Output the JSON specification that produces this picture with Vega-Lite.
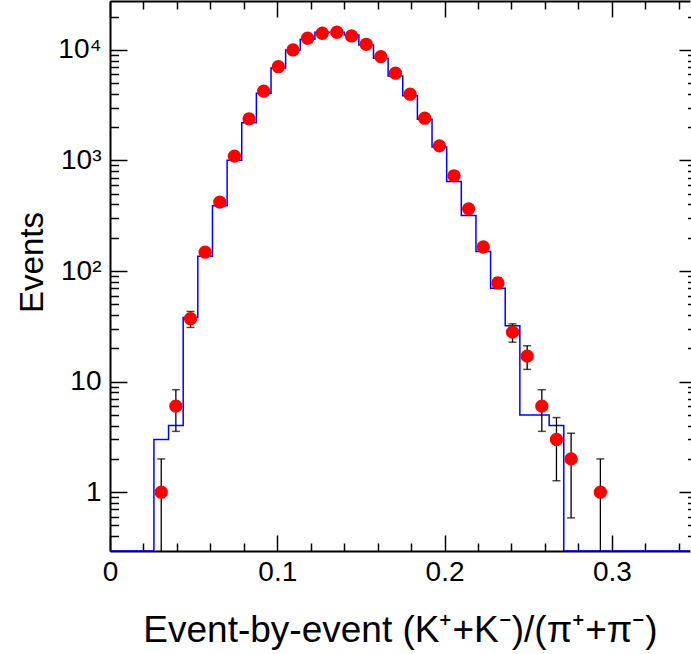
{
  "$schema": "https://vega.github.io/schema/vega-lite/v6.json",
  "width": 580,
  "height": 550,
  "autosize": {"type": "none"},
  "padding": {"left": 110, "top": 1, "right": 1, "bottom": 103},
  "background": "white",
  "config": {"view": {"stroke": null}, "font": "Liberation Sans", "axis": {"grid": false}},
  "datasets": {
    "hist": [
      {"x0": 0, "h": 0}, {"x0": 0.00875, "h": 0}, {"x0": 0.0175, "h": 0}, {"x0": 0.02625, "h": 3},
      {"x0": 0.035, "h": 4}, {"x0": 0.04375, "h": 38}, {"x0": 0.0525, "h": 136}, {"x0": 0.06125, "h": 390},
      {"x0": 0.07, "h": 1006}, {"x0": 0.07875, "h": 2190}, {"x0": 0.0875, "h": 4050}, {"x0": 0.09625, "h": 6870},
      {"x0": 0.105, "h": 9980}, {"x0": 0.11375, "h": 12470}, {"x0": 0.1225, "h": 14400}, {"x0": 0.13125, "h": 14400},
      {"x0": 0.14, "h": 13650}, {"x0": 0.14875, "h": 11070}, {"x0": 0.1575, "h": 8400}, {"x0": 0.16625, "h": 5810},
      {"x0": 0.175, "h": 3850}, {"x0": 0.18375, "h": 2360}, {"x0": 0.1925, "h": 1320}, {"x0": 0.20125, "h": 645},
      {"x0": 0.21, "h": 318}, {"x0": 0.21875, "h": 150}, {"x0": 0.2275, "h": 70}, {"x0": 0.23625, "h": 32},
      {"x0": 0.245, "h": 5}, {"x0": 0.25375, "h": 5}, {"x0": 0.2625, "h": 4}, {"x0": 0.27125, "h": 0},
      {"x0": 0.28, "h": 0}, {"x0": 0.28875, "h": 0}, {"x0": 0.2975, "h": 0}, {"x0": 0.30625, "h": 0},
      {"x0": 0.315, "h": 0}, {"x0": 0.32375, "h": 0}, {"x0": 0.3325, "h": 0}, {"x0": 0.34125, "h": 0},
      {"x0": 0.35, "h": 0}
    ],
    "pts": [
      {"xc": 0.030625, "n": 1, "lo": 0, "hi": 2},
      {"xc": 0.039375, "n": 6, "lo": 3.55, "hi": 8.45},
      {"xc": 0.048125, "n": 37, "lo": 30.9, "hi": 43.1},
      {"xc": 0.056875, "n": 148, "lo": 135.8, "hi": 160.2},
      {"xc": 0.065625, "n": 420, "lo": 399.5, "hi": 440.5},
      {"xc": 0.074375, "n": 1094, "lo": 1061, "hi": 1127},
      {"xc": 0.083125, "n": 2376, "lo": 2327, "hi": 2425},
      {"xc": 0.091875, "n": 4226, "lo": 4161, "hi": 4291},
      {"xc": 0.100625, "n": 7044, "lo": 6960, "hi": 7128},
      {"xc": 0.109375, "n": 9980, "lo": 9880, "hi": 10080},
      {"xc": 0.118125, "n": 12730, "lo": 12617, "hi": 12843},
      {"xc": 0.126875, "n": 14120, "lo": 14001, "hi": 14239},
      {"xc": 0.135625, "n": 14420, "lo": 14300, "hi": 14540},
      {"xc": 0.144375, "n": 13360, "lo": 13244, "hi": 13476},
      {"xc": 0.153125, "n": 11220, "lo": 11114, "hi": 11326},
      {"xc": 0.161875, "n": 8690, "lo": 8597, "hi": 8783},
      {"xc": 0.170625, "n": 6150, "lo": 6072, "hi": 6228},
      {"xc": 0.179375, "n": 3972, "lo": 3909, "hi": 4035},
      {"xc": 0.188125, "n": 2410, "lo": 2361, "hi": 2459},
      {"xc": 0.196875, "n": 1355, "lo": 1318, "hi": 1392},
      {"xc": 0.205625, "n": 726, "lo": 699, "hi": 753},
      {"xc": 0.214375, "n": 365, "lo": 346, "hi": 384},
      {"xc": 0.223125, "n": 165, "lo": 152.2, "hi": 177.8},
      {"xc": 0.231875, "n": 78, "lo": 69.2, "hi": 86.8},
      {"xc": 0.240625, "n": 28, "lo": 22.7, "hi": 33.3},
      {"xc": 0.249375, "n": 17, "lo": 12.9, "hi": 21.1},
      {"xc": 0.258125, "n": 6, "lo": 3.55, "hi": 8.45},
      {"xc": 0.266875, "n": 3, "lo": 1.27, "hi": 4.73},
      {"xc": 0.275625, "n": 2, "lo": 0.586, "hi": 3.414},
      {"xc": 0.293125, "n": 1, "lo": 0, "hi": 2}
    ]
  },
  "resolve": {"axis": {"x": "independent", "y": "independent"}},
  "layer": [
    {
      "data": {"name": "hist"},
      "mark": {"type": "line", "interpolate": "step-after", "color": "#0000ff", "strokeWidth": 1.5, "clip": true, "invalid": "show"},
      "encoding": {
        "x": {"field": "x0", "type": "quantitative",
          "scale": {"type": "linear", "domain": [0, 0.3467], "nice": false, "zero": false},
          "axis": {"orient": "bottom", "values": [0, 0.1, 0.2, 0.3], "format": "~g", "ticks": false,
            "labelFontSize": 28, "labelPadding": 29, "labelBaseline": "alphabetic", "labelColor": "black", "labelFlush": false,
            "domainColor": "black", "domainWidth": 2,
            "title": "Event-by-event (K⁺+K⁻)/(π⁺+π⁻)", "titleFontSize": 37, "titleFontWeight": "normal", "titleColor": "black",
            "titleBaseline": "alphabetic", "titleY": 90}},
        "y": {"field": "h", "type": "quantitative",
          "scale": {"type": "log", "domain": [0.294, 27650], "nice": false, "clamp": true},
          "axis": {"orient": "left", "values": [1, 10, 100, 1000, 10000], "ticks": false,
            "labelExpr": "datum.value == 1 ? '1' : datum.value == 10 ? '10' : datum.value == 100 ? '10²' : datum.value == 1000 ? '10³' : '10⁴'",
            "labelFontSize": 28, "labelPadding": 9, "labelBaseline": "middle", "labelColor": "black",
            "domainColor": "black", "domainWidth": 2,
            "title": "Events", "titleFontSize": 33, "titleFontWeight": "normal", "titleColor": "black",
            "titleAngle": -90, "titleX": -68, "titleY": 261, "titleAlign": "center", "titleBaseline": "alphabetic"}}
      }
    },
    {
      "data": {"name": "pts"},
      "mark": {"type": "rule", "color": "black", "strokeWidth": 1.3, "invalid": "show"},
      "encoding": {
        "x": {"field": "xc", "type": "quantitative",
          "scale": {"type": "linear", "domain": [0, 0.3467], "nice": false, "zero": false},
          "axis": {"orient": "bottom", "values": [0, 0.1, 0.2, 0.3], "labels": false, "domain": false,
            "tickSize": -16, "tickWidth": 1.5, "tickColor": "black", "title": null}},
        "y": {"field": "lo", "type": "quantitative",
          "scale": {"type": "log", "domain": [0.294, 27650], "nice": false, "clamp": true},
          "axis": {"orient": "left", "values": [1, 10, 100, 1000, 10000], "labels": false, "domain": false,
            "tickSize": -17, "tickWidth": 1.5, "tickColor": "black", "title": null}},
        "y2": {"field": "hi"}
      }
    },
    {
      "data": {"name": "pts"},
      "mark": {"type": "tick", "orient": "horizontal", "color": "black", "size": 8, "thickness": 1.5},
      "encoding": {
        "x": {"field": "xc", "type": "quantitative",
          "scale": {"type": "linear", "domain": [0, 0.3467], "nice": false, "zero": false},
          "axis": {"orient": "bottom", "values": [0.02, 0.04, 0.06, 0.08, 0.12, 0.14, 0.16, 0.18, 0.22, 0.24, 0.26, 0.28, 0.32, 0.34],
            "labels": false, "domain": false, "tickSize": -8, "tickWidth": 1.5, "tickColor": "black", "title": null}},
        "y": {"field": "hi", "type": "quantitative",
          "scale": {"type": "log", "domain": [0.294, 27650], "nice": false, "clamp": true},
          "axis": {"orient": "left", "values": [0.4, 0.5, 0.6, 0.7, 0.8, 0.9, 2, 3, 4, 5, 6, 7, 8, 9, 20, 30, 40, 50, 60, 70, 80, 90, 200, 300, 400, 500, 600, 700, 800, 900, 2000, 3000, 4000, 5000, 6000, 7000, 8000, 9000, 20000],
            "labels": false, "domain": false, "tickSize": -8.5, "tickWidth": 1.5, "tickColor": "black", "title": null}}
      }
    },
    {
      "data": {"name": "pts"},
      "transform": [{"filter": "datum.lo > 0"}],
      "mark": {"type": "tick", "orient": "horizontal", "color": "black", "size": 8, "thickness": 1.5},
      "encoding": {
        "x": {"field": "xc", "type": "quantitative",
          "scale": {"type": "linear", "domain": [0, 0.3467], "nice": false, "zero": false},
          "axis": {"orient": "top", "values": [0, 0.1, 0.2, 0.3], "labels": false, "domain": true, "domainColor": "black", "domainWidth": 2,
            "tickSize": -16, "tickWidth": 1.5, "tickColor": "black", "title": null}},
        "y": {"field": "lo", "type": "quantitative",
          "scale": {"type": "log", "domain": [0.294, 27650], "nice": false, "clamp": true},
          "axis": {"orient": "right", "offset": 6, "values": [1, 10, 100, 1000, 10000], "labels": false, "domain": false,
            "tickSize": -17, "tickWidth": 1.5, "tickColor": "black", "title": null}}
      }
    },
    {
      "data": {"name": "pts"},
      "mark": {"type": "circle", "color": "#ff0000", "size": 177, "opacity": 1},
      "encoding": {
        "x": {"field": "xc", "type": "quantitative",
          "scale": {"type": "linear", "domain": [0, 0.3467], "nice": false, "zero": false},
          "axis": {"orient": "top", "values": [0.02, 0.04, 0.06, 0.08, 0.12, 0.14, 0.16, 0.18, 0.22, 0.24, 0.26, 0.28, 0.32, 0.34],
            "labels": false, "domain": false, "tickSize": -8, "tickWidth": 1.5, "tickColor": "black", "title": null}},
        "y": {"field": "n", "type": "quantitative",
          "scale": {"type": "log", "domain": [0.294, 27650], "nice": false, "clamp": true},
          "axis": {"orient": "right", "offset": 6, "values": [0.4, 0.5, 0.6, 0.7, 0.8, 0.9, 2, 3, 4, 5, 6, 7, 8, 9, 20, 30, 40, 50, 60, 70, 80, 90, 200, 300, 400, 500, 600, 700, 800, 900, 2000, 3000, 4000, 5000, 6000, 7000, 8000, 9000, 20000],
            "labels": false, "domain": false, "tickSize": -8.5, "tickWidth": 1.5, "tickColor": "black", "title": null}}
      }
    }
  ]
}
